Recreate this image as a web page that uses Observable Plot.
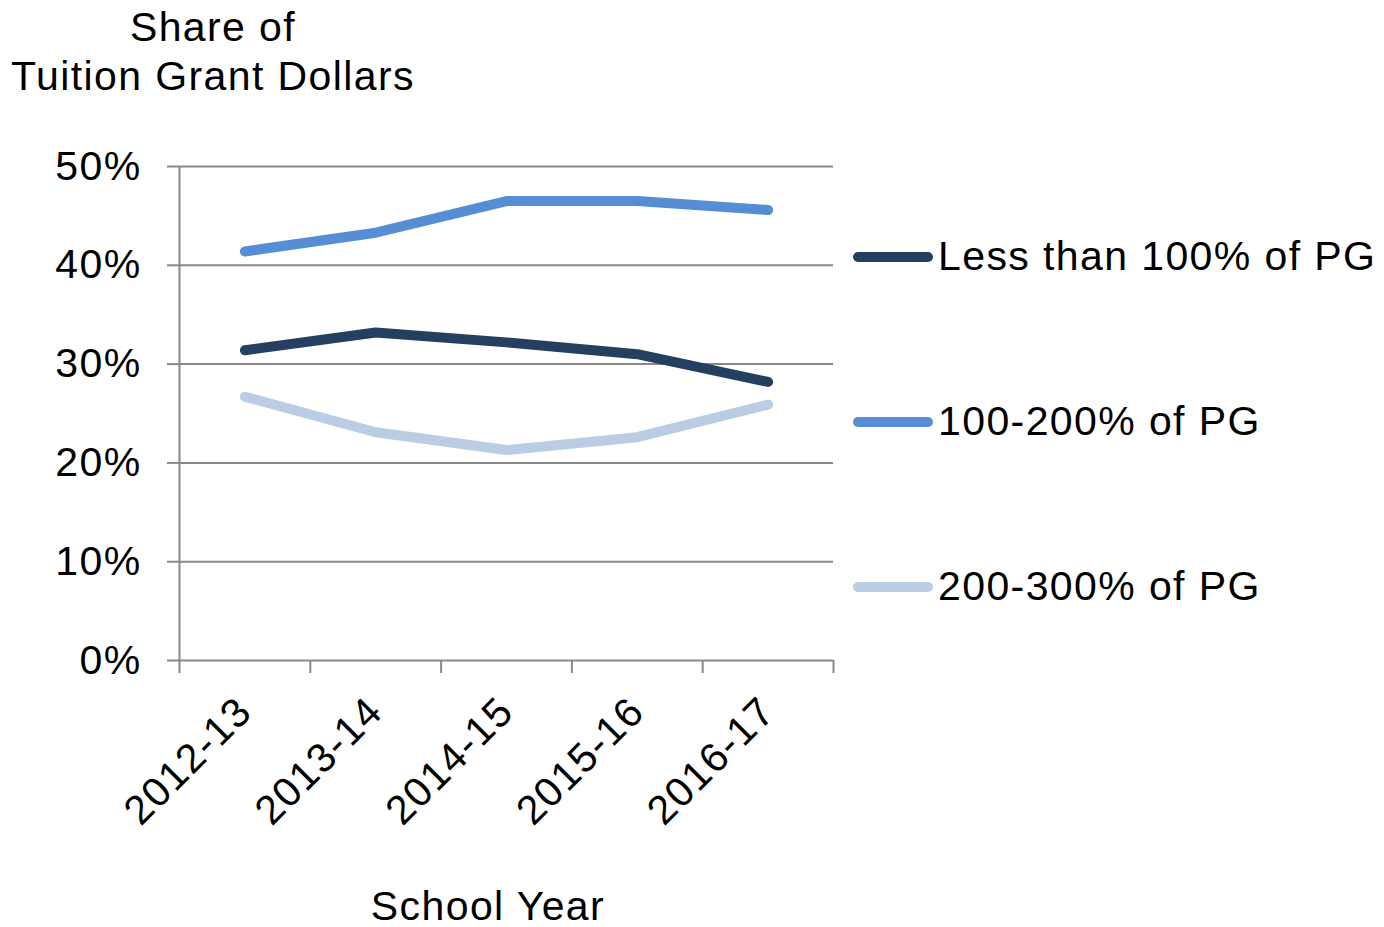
<!DOCTYPE html>
<html>
<head>
<meta charset="utf-8">
<script src="https://cdn.jsdelivr.net/npm/d3@7"></script>
<script src="https://cdn.jsdelivr.net/npm/@observablehq/plot@0.6"></script>
<style>
  html, body { margin: 0; padding: 0; background: #fff; }
  #wrap { position: relative; width: 1384px; height: 927px; font-family: "Liberation Sans", Arial, sans-serif; color: #000; }
  #wrap svg { position: absolute; left: 0; top: 0; }
  .t { position: absolute; font-size: 41px; letter-spacing: 1.4px; line-height: 1; white-space: pre; }
  .leg { position: absolute; display: flex; align-items: center; font-size: 41px; letter-spacing: 1.4px; white-space: pre; }
  .sw { width: 80px; height: 10px; border-radius: 5px; margin-right: 5px; }
</style>
</head>
<body>
<div id="wrap"></div>
<script>
const years = ["2012-13", "2013-14", "2014-15", "2015-16", "2016-17"];
const seriesNames = ["Less than 100% of PG", "100-200% of PG", "200-300% of PG"];
const seriesColors = ["#243f60", "#558ed5", "#b9cde5"];
const lessThan100 = [0.314, 0.332, 0.322, 0.310, 0.282];
const pg100to200 = [0.414, 0.433, 0.465, 0.465, 0.456];
const pg200to300 = [0.267, 0.231, 0.213, 0.226, 0.259];
const yTicks = [0, 0.1, 0.2, 0.3, 0.4, 0.5];

const seriesValues = [lessThan100, pg100to200, pg200to300];
const data = [];
seriesNames.forEach((s, k) => years.forEach((yr, i) => data.push({series: s, year: yr, i, v: seriesValues[k][i]})));
const bandEdges = d3.range(-0.5, years.length, 1);
const centers = d3.range(years.length);

const gray = "#898989";
const chart = Plot.plot({
  width: 1384,
  height: 927,
  marginLeft: 179,
  marginRight: 551,
  marginTop: 166,
  marginBottom: 267,
  style: {fontFamily: "'Liberation Sans', Arial, sans-serif", fontSize: "41px", letterSpacing: "1.4px", background: "transparent", overflow: "visible"},
  x: {domain: [-0.5, years.length - 0.5], label: null},
  y: {domain: [0, 0.5], label: null},
  color: {domain: seriesNames, range: seriesColors},
  marks: [
    Plot.ruleY(yTicks, {y: d => d, stroke: gray, strokeWidth: 2}),
    Plot.axisY({ticks: yTicks, tickSize: 12, stroke: gray, strokeWidth: 2, fill: "none", label: null}),
    Plot.axisY({ticks: yTicks, tickSize: 0, tickPadding: 38, tickFormat: d3.format(".0%"), stroke: "none", fill: "#000", label: null}),
    Plot.axisX({ticks: bandEdges, tickSize: 13, stroke: gray, strokeWidth: 2, fill: "none", label: null}),
    Plot.axisX({ticks: centers, tickSize: 0, tickPadding: 44, tickRotate: -45, tickFormat: i => years[i], stroke: "none", fill: "#000", label: null}),
    Plot.ruleX([-0.5], {x: d => d, y1: 0, y2: 0.5, stroke: gray, strokeWidth: 2}),
    Plot.line(data, {x: "i", y: "v", z: "series", stroke: "series", strokeWidth: 10, strokeLinecap: "round", strokeLinejoin: "round"})
  ]
});

const wrap = document.getElementById("wrap");
wrap.appendChild(chart);

function addText(txt, left, top, extra) {
  const d = document.createElement("div");
  d.className = "t";
  d.textContent = txt;
  d.style.left = left + "px";
  d.style.top = top + "px";
  if (extra) Object.assign(d.style, extra);
  wrap.appendChild(d);
  return d;
}
addText("Share of", 0, 7, {width: "426px", textAlign: "center"});
addText("Tuition Grant Dollars", 0, 56, {width: "426px", textAlign: "center"});
addText("School Year", 288, 886, {width: "400px", textAlign: "center"});

const legTops = [233, 398, 563];
seriesNames.forEach((s, k) => {
  const row = document.createElement("div");
  row.className = "leg";
  row.style.left = "853px";
  row.style.top = legTops[k] + "px";
  const sw = document.createElement("div");
  sw.className = "sw";
  sw.style.background = seriesColors[k];
  const lab = document.createElement("span");
  lab.textContent = s;
  row.appendChild(sw);
  row.appendChild(lab);
  wrap.appendChild(row);
});
</script>
</body>
</html>
